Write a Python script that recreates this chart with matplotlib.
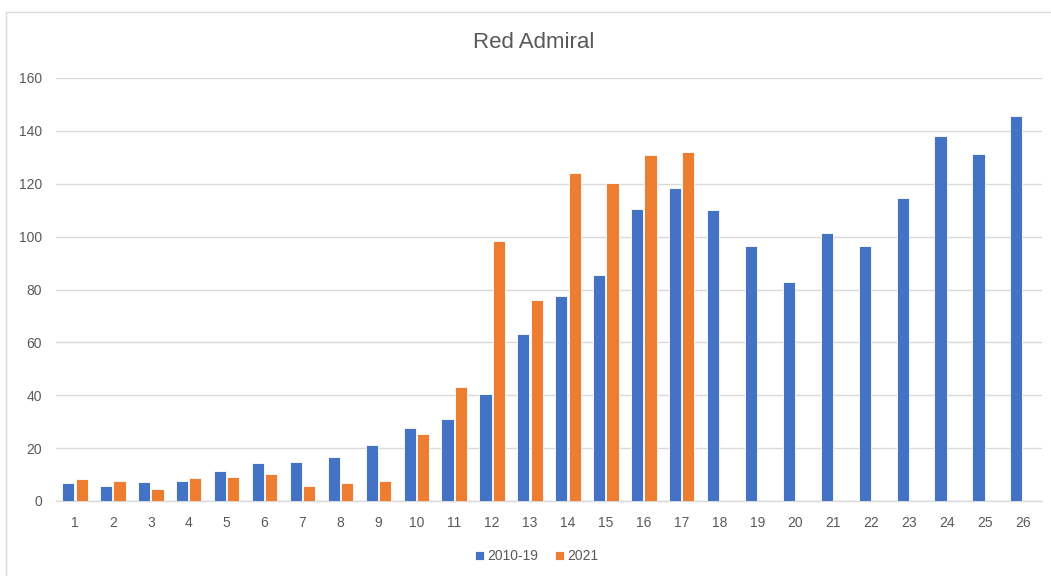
import matplotlib
matplotlib.use("Agg")
import matplotlib.pyplot as plt
import numpy as np
from matplotlib.patches import Rectangle

categories = [str(i) for i in range(1, 27)]
series_2010_19 = [6.7, 5.7, 7.2, 7.7, 11.2, 14.2, 14.7, 16.7, 21.3, 27.8, 31.2, 40.3, 63.1,
                  77.5, 85.5, 110.3, 118.3, 110.0, 96.4, 82.8, 101.4, 96.4, 114.5, 138.1,
                  131.2, 145.7]
series_2021 = [8.2, 7.7, 4.7, 8.6, 9.2, 10.1, 5.7, 6.7, 7.7, 25.2, 43.3, 98.3, 76.0,
               123.9, 120.4, 131.0, 131.9]
yticks = [0, 20, 40, 60, 80, 100, 120, 140, 160]

BLUE = "#4472C4"
ORANGE = "#ED7D31"
GRID = "#D9D9D9"
TEXT = "#595959"

plt.rcParams['font.family'] = ['Liberation Sans', 'DejaVu Sans']

W, H = 1051, 576
fig = plt.figure(figsize=(W / 100, H / 100), dpi=100)
ax = fig.add_axes([56 / W, 1 - 501 / H, 986 / W, 423 / H])

x = np.arange(len(categories))
bw = 0.32
off = 0.175
ax.bar(x - off, series_2010_19, width=bw, color=BLUE, edgecolor="white", linewidth=0.6,
       label="2010-19", zorder=3)
ax.bar(np.arange(len(series_2021)) + off, series_2021, width=bw, color=ORANGE,
       edgecolor="white", linewidth=0.6, label="2021", zorder=3)

ax.set_xlim(-0.5, len(categories) - 0.5)
ax.set_ylim(0, 160)
ax.set_yticks(yticks)
ax.set_xticks(x)
ax.set_xticklabels(categories)
ax.yaxis.grid(True, color=GRID, linewidth=1.0, zorder=0)
ax.set_axisbelow(True)
for s in ["top", "right", "left"]:
    ax.spines[s].set_visible(False)
ax.spines["bottom"].set_color(GRID)
ax.spines["bottom"].set_linewidth(1.0)
ax.tick_params(axis="both", length=0, labelsize=10, labelcolor=TEXT)
ax.tick_params(axis="y", pad=10)
ax.tick_params(axis="x", pad=11)

fig.text(533.5 / W, 1 - 42 / H, "Red Admiral", ha="center", va="center",
         fontsize=16, color=TEXT)

leg = fig.legend(loc="center", bbox_to_anchor=(537 / W, 1 - 556 / H), ncol=2,
                 frameon=False, fontsize=10, handlelength=0.6, handleheight=0.6,
                 handletextpad=0.3, columnspacing=1.2, labelcolor=TEXT)

fig.patches.append(Rectangle((5.5 / W, -0.1), 2.0, 1 - 11.5 / H + 0.1,
                             transform=fig.transFigure, fill=False,
                             edgecolor=GRID, linewidth=1.0))

fig.savefig("out.png", dpi=100)
